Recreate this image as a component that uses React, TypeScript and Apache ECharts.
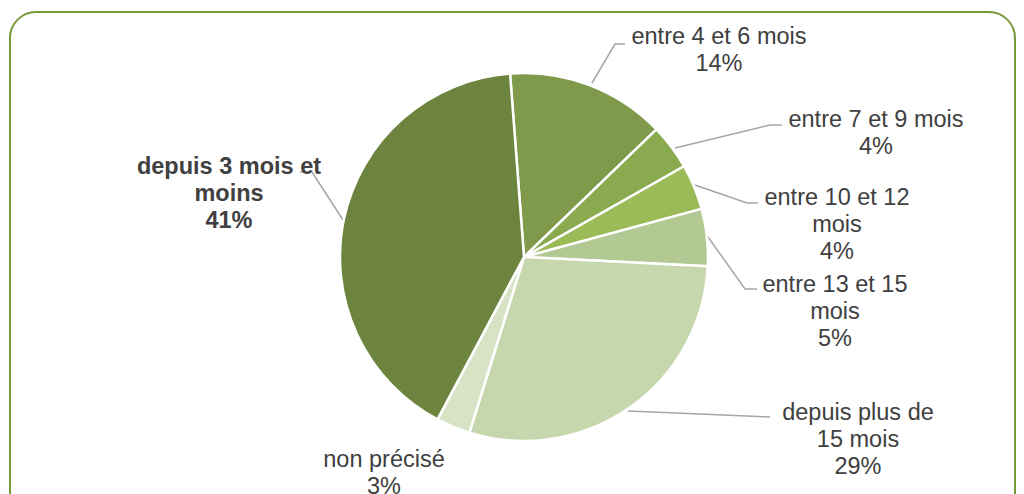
import React, { useEffect, useRef } from "react";
import * as echarts from "echarts";

const categories = [
  "entre 4 et 6 mois",
  "entre 7 et 9 mois",
  "entre 10 et 12 mois",
  "entre 13 et 15 mois",
  "depuis plus de 15 mois",
  "non précisé",
  "depuis 3 mois et moins",
];
const displayLabels = [
  "entre 4 et 6 mois",
  "entre 7 et 9 mois",
  "entre 10 et 12\nmois",
  "entre 13 et 15\nmois",
  "depuis plus de\n15 mois",
  "non précisé",
  "depuis 3 mois et\nmoins",
];
const values = [14, 4, 4, 5, 29, 3, 41];
const colors = ["#7f9a4a", "#8aaa50", "#9bbb59", "#b3c994", "#c6d6ad", "#d8e3c6", "#6c843e"];

// label layout: [centerX, topY, line points]
const labelPos: { x: number; y: number; line: number[][] | null }[] = [
  { x: 719, y: 22, line: [[592, 83], [615, 44], [625, 44]] },
  { x: 876, y: 105, line: [[675, 148], [770, 125], [782, 125]] },
  { x: 837, y: 183, line: [[695, 185], [747, 203], [758, 203]] },
  { x: 835, y: 270, line: [[708, 237], [745, 289], [757, 289]] },
  { x: 858, y: 398, line: [[628, 411], [700, 414], [770, 417]] },
  { x: 384, y: 445, line: null },
  { x: 229, y: 152, line: [[343, 220], [312, 172], [300, 172]] },
];

export default function App() {
  const ref = useRef<HTMLDivElement>(null);
  useEffect(() => {
    if (!ref.current) return;
    const chart = echarts.init(ref.current, undefined, { renderer: "svg" });
    chart.setOption({
      animation: false,
      backgroundColor: "#ffffff",
      graphic: [
        {
          type: "rect",
          shape: { x: 10, y: 12, width: 1005, height: 520, r: 26 },
          style: { fill: "none", stroke: "#77993a", lineWidth: 2 },
          z: -1,
        },
      ],
      series: [
        {
          type: "pie",
          center: [524, 257],
          radius: 184,
          startAngle: 94.35,
          clockwise: true,
          avoidLabelOverlap: false,
          itemStyle: { borderColor: "#ffffff", borderWidth: 2.5 },
          label: {
            show: true,
            position: "outside",
            fontFamily: "Liberation Sans, Arial, sans-serif",
            fontSize: 23.5,
            lineHeight: 27,
            color: "#404040",
            align: "center",
            formatter: (p: any) => `${displayLabels[p.dataIndex]}\n${p.percent}%`,
          },
          labelLine: {
            show: true,
            lineStyle: { color: "#a6a6a6", width: 1.5 },
          },
          labelLayout: (p: any) => {
            const lp = labelPos[p.dataIndex];
            const o: any = { x: lp.x, y: lp.y, align: "center", verticalAlign: "top" };
            if (lp.line) o.labelLinePoints = lp.line;
            return o;
          },
          data: categories.map((name, i) => ({
            name,
            value: values[i],
            itemStyle: { color: colors[i] },
            label: i === 6 ? { fontWeight: "bold" } : undefined,
            labelLine: i === 5 ? { show: false } : undefined,
          })),
        },
      ],
    });
    return () => chart.dispose();
  }, []);
  return (
    <div
      ref={ref}
      style={{ position: "fixed", left: 0, top: 0, width: 1024, height: 494 }}
    />
  );
}
